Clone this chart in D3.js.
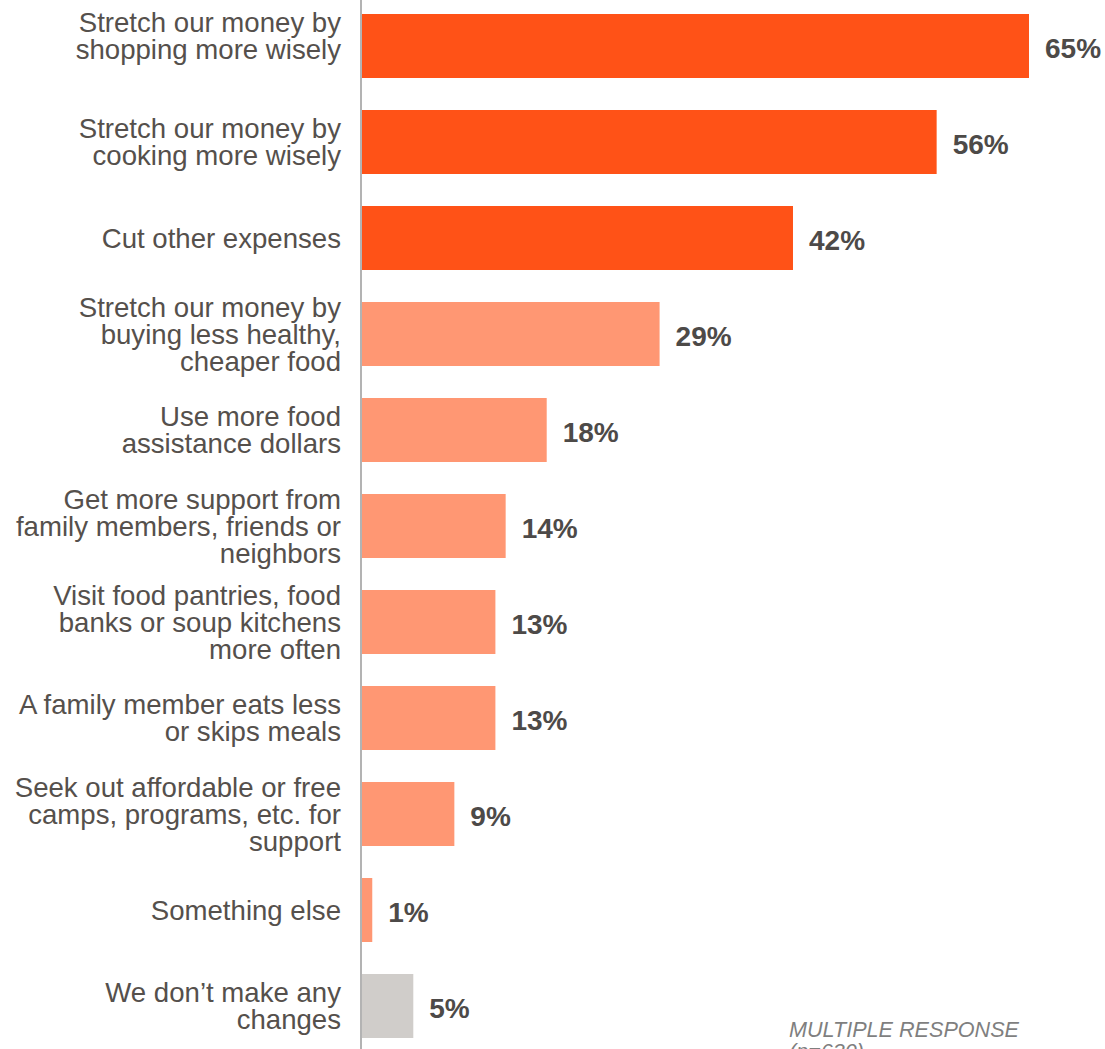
<!DOCTYPE html>
<html>
<head>
<meta charset="utf-8">
<script src="https://cdn.jsdelivr.net/npm/d3@7"></script>
<style>
  html, body { margin: 0; padding: 0; background: #ffffff; overflow: hidden; }
  svg { display: block; }
</style>
</head>
<body>
<svg id="chart" width="1105" height="1049"></svg>
<script>
// Ways households cope when money for food runs short
const categories = [
  "Stretch our money by\nshopping more wisely",
  "Stretch our money by\ncooking more wisely",
  "Cut other expenses",
  "Stretch our money by\nbuying less healthy,\ncheaper food",
  "Use more food\nassistance dollars",
  "Get more support from\nfamily members, friends or\nneighbors",
  "Visit food pantries, food\nbanks or soup kitchens\nmore often",
  "A family member eats less\nor skips meals",
  "Seek out affordable or free\ncamps, programs, etc. for\nsupport",
  "Something else",
  "We don\u2019t make any\nchanges"
];
const values = [65, 56, 42, 29, 18, 14, 13, 13, 9, 1, 5];
// Emphasis group per bar: top three, the rest, no change
const groups = ["top", "top", "top", "other", "other", "other", "other", "other", "other", "other", "none"];
const noteLines = ["MULTIPLE RESPONSE", "(n=630)"];

const colors = { top: "#FF5217", other: "#FF9773", none: "#D0CDCA" };
const textColor = "#55504C";
const valueColor = "#4D4A48";
const font = "'Liberation Sans', Arial, Helvetica, sans-serif";

const svg = d3.select("#chart");

const x = d3.scaleLinear().domain([0, 65]).range([362, 1029]);
const y = d3.scaleBand()
  .domain(d3.range(categories.length))
  .range([-2, 1054])
  .paddingInner(1 / 3)
  .paddingOuter(1 / 6);

// bars
svg.append("g").selectAll("rect")
  .data(values)
  .join("rect")
  .attr("x", x(0))
  .attr("y", (d, i) => y(i))
  .attr("width", d => x(d) - x(0))
  .attr("height", y.bandwidth())
  .attr("fill", (d, i) => colors[groups[i]]);

// vertical baseline
svg.append("line")
  .attr("x1", 361).attr("x2", 361)
  .attr("y1", 0).attr("y2", 1049)
  .attr("stroke", "#A0A0A0")
  .attr("stroke-width", 1.6);

// category labels, multi-line, right aligned against the baseline
const lineH = 27;
const labelShift = { 0: -10 };
const labels = svg.append("g")
  .attr("font-family", font)
  .attr("font-size", 27.6)
  .attr("fill", textColor)
  .attr("text-anchor", "end");

categories.forEach((c, i) => {
  const lines = c.split("\n");
  const cy = y(i) + y.bandwidth() / 2 + (labelShift[i] || 0);
  const t = labels.append("text")
    .attr("x", 341)
    .attr("y", cy - (lines.length - 1) * lineH / 2);
  lines.forEach((ln, k) => {
    t.append("tspan")
      .attr("x", 341)
      .attr("dy", k === 0 ? "0.35em" : lineH)
      .text(ln);
  });
});

// value labels
svg.append("g")
  .attr("font-family", font)
  .attr("font-size", 28)
  .attr("font-weight", "bold")
  .attr("fill", valueColor)
  .selectAll("text")
  .data(values)
  .join("text")
  .attr("x", d => x(d) + 16)
  .attr("y", (d, i) => y(i) + y.bandwidth() / 2 + 2)
  .attr("dy", "0.35em")
  .text(d => d + "%");

// footnote
svg.append("g")
  .attr("font-family", font)
  .attr("font-size", 21.6)
  .attr("font-style", "italic")
  .attr("fill", "#7F7F7F")
  .selectAll("text")
  .data(noteLines)
  .join("text")
  .attr("x", 789)
  .attr("y", (d, i) => 1037 + i * 22)
  .text(d => d);
</script>
</body>
</html>
